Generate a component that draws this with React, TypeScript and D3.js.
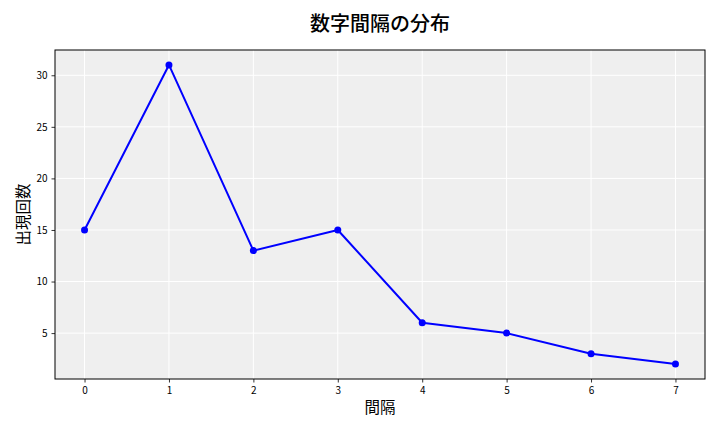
import React, { useEffect, useRef } from 'react';
import * as d3 from 'd3';

// 間隔ごとの出現回数
const intervals = [0, 1, 2, 3, 4, 5, 6, 7];
const counts = [15, 31, 13, 15, 6, 5, 3, 2];
const yTicks = [5, 10, 15, 20, 25, 30];

const title = '数字間隔の分布';
const xLabel = '間隔';
const yLabel = '出現回数';

const FONT = '"Noto Sans CJK JP", "Noto Sans", sans-serif';

const App: React.FC = () => {
  const svgRef = useRef<SVGSVGElement>(null);

  useEffect(() => {
    if (!svgRef.current) return;
    const width = 720;
    const height = 432;
    const margin = { top: 50, right: 15, bottom: 53, left: 55 };
    const innerW = width - margin.left - margin.right;
    const innerH = height - margin.top - margin.bottom;

    const svg = d3.select(svgRef.current);
    svg.selectAll('*').remove();
    svg.attr('viewBox', `0 0 ${width} ${height}`);

    svg.append('rect').attr('width', width).attr('height', height).attr('fill', '#ffffff');

    const data = intervals.map((x, i) => ({ x, y: counts[i] }));

    // matplotlib風の余白
    const xScale = d3.scaleLinear().domain([-0.35, 7.35]).range([0, innerW]);
    const yMin = d3.min(counts) as number;
    const yMax = d3.max(counts) as number;
    const pad = (yMax - yMin) * 0.05;
    const yScale = d3.scaleLinear().domain([yMin - pad, yMax + pad]).range([innerH, 0]);

    const g = svg.append('g').attr('transform', `translate(${margin.left},${margin.top})`);

    // 背景
    g.append('rect').attr('width', innerW).attr('height', innerH).attr('fill', '#efefef');

    // グリッド
    g.append('g')
      .selectAll('line')
      .data(intervals)
      .enter()
      .append('line')
      .attr('x1', (d) => xScale(d))
      .attr('x2', (d) => xScale(d))
      .attr('y1', 0)
      .attr('y2', innerH)
      .attr('stroke', '#ffffff')
      .attr('stroke-width', 1);

    g.append('g')
      .selectAll('line')
      .data(yTicks)
      .enter()
      .append('line')
      .attr('x1', 0)
      .attr('x2', innerW)
      .attr('y1', (d) => yScale(d))
      .attr('y2', (d) => yScale(d))
      .attr('stroke', '#ffffff')
      .attr('stroke-width', 1);

    // 軸
    const xAxis = d3.axisBottom(xScale).tickValues(intervals).tickFormat((d) => String(d)).tickSizeOuter(0).tickSize(3.5).tickPadding(4);
    const yAxis = d3.axisLeft(yScale).tickValues(yTicks).tickFormat((d) => String(d)).tickSizeOuter(0).tickSize(3.5).tickPadding(4);

    const gx = g.append('g').attr('transform', `translate(0,${innerH})`).call(xAxis);
    const gy = g.append('g').call(yAxis);
    [gx, gy].forEach((ax) => {
      ax.select('.domain').remove();
      ax.selectAll('text').attr('font-family', FONT).attr('font-size', 10).attr('fill', '#000');
      ax.selectAll('line').attr('stroke', '#000').attr('stroke-width', 0.8);
    });

    // 枠
    g.append('rect')
      .attr('width', innerW)
      .attr('height', innerH)
      .attr('fill', 'none')
      .attr('stroke', '#000')
      .attr('stroke-width', 1);

    // 折れ線
    const line = d3.line<typeof data[0]>()
      .x((d) => xScale(d.x))
      .y((d) => yScale(d.y));

    g.append('path')
      .datum(data)
      .attr('fill', 'none')
      .attr('stroke', '#0000ff')
      .attr('stroke-width', 2)
      .attr('stroke-linejoin', 'round')
      .attr('d', line);

    g.selectAll('.dot')
      .data(data)
      .enter()
      .append('circle')
      .attr('class', 'dot')
      .attr('cx', (d) => xScale(d.x))
      .attr('cy', (d) => yScale(d.y))
      .attr('r', 3.5)
      .attr('fill', '#0000ff');

    // タイトル・ラベル
    svg.append('text')
      .attr('x', margin.left + innerW / 2)
      .attr('y', 31)
      .attr('text-anchor', 'middle')
      .attr('font-family', FONT)
      .attr('font-size', 20)
      .attr('font-weight', 500)
      .text(title);

    svg.append('text')
      .attr('x', margin.left + innerW / 2)
      .attr('y', 413)
      .attr('text-anchor', 'middle')
      .attr('font-family', FONT)
      .attr('font-size', 15.5)
      .text(xLabel);

    svg.append('text')
      .attr('transform', `translate(29,${margin.top + innerH / 2}) rotate(-90)`)
      .attr('text-anchor', 'middle')
      .attr('font-family', FONT)
      .attr('font-size', 15.5)
      .text(yLabel);
  }, []);

  return <svg ref={svgRef} width={720} height={432} style={{ display: 'block', margin: -8 }} />;
};

export default App;
